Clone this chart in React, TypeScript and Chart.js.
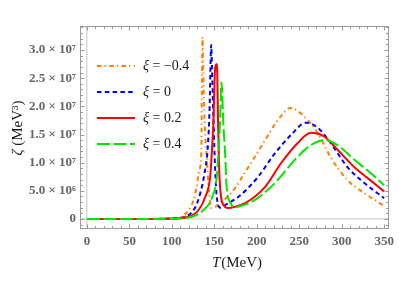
import React, { useEffect, useRef } from "react";
import { Chart, registerables } from "chart.js";

Chart.register(...registerables);

// ---- data ----
const seriesLabels = ["−0.4", "0", "0.2", "0.4"];
const seriesColors = ["#FF8000", "#0000FF", "#FF0000", "#00E600"];

const tOrange = [0, 60, 90, 100, 111.6, 119.8, 125.6, 129.1, 132.3, 134.6, 135.5, 136.1, 137, 138.5, 140.8, 143.2, 146.7, 158, 170, 190, 209.8, 225, 240, 256.4, 271.7, 286.9, 306.8, 326.7, 350];
const zOrange = [0, 5e3, 5e4, 1.2e5, 4e5, 1.6e6, 3.4e6, 5.7e6, 8.7e6, 1.17e7, 2.5e7, 3.23e7, 2.6e7, 1.76e7, 1.17e7, 5.7e6, 1.9e6, 3.0e6, 4.6e6, 9.2e6, 1.4e7, 1.76e7, 1.97e7, 1.81e7, 1.53e7, 1.1e7, 6.9e6, 4.6e6, 2.3e6];

const tBlue = [0, 60, 90, 100, 115.9, 127.6, 133.5, 138.5, 142.3, 144.5, 145.6, 146.3, 147.2, 149, 151, 152.9, 157.2, 165, 178.2, 201.6, 221.5, 240.2, 257.8, 271.8, 287, 306.8, 326.7, 350];
const zBlue = [0, 5e3, 4e4, 1e5, 4e5, 2.1e6, 4.6e6, 8.2e6, 1.28e7, 2.0e7, 2.8e7, 3.09e7, 2.7e7, 1.76e7, 8.7e6, 3.9e6, 2.0e6, 2.7e6, 3.9e6, 7.5e6, 1.17e7, 1.49e7, 1.71e7, 1.62e7, 1.35e7, 9.2e6, 6.4e6, 3.7e6];

const tRed = [0, 60, 90, 100, 119.7, 131.5, 139.3, 145.1, 147, 149, 150.8, 152.5, 153.6, 154.3, 155.7, 158, 160.7, 166, 175, 186.4, 209.8, 228.5, 248.3, 263.5, 279.9, 295.1, 315, 333.6, 350];
const zRed = [0, 4e3, 3e4, 8e4, 4e5, 1.6e6, 3.9e6, 7.5e6, 1.17e7, 1.76e7, 2.65e7, 2.75e7, 2.5e7, 1.76e7, 8.7e6, 3.9e6, 2.5e6, 1.95e6, 2.2e6, 2.8e6, 5.7e6, 9.9e6, 1.35e7, 1.53e7, 1.46e7, 1.23e7, 9.2e6, 6.9e6, 4.9e6];

const tGreen = [0, 60, 90, 100, 123.6, 137.3, 147, 152.9, 154.8, 156.8, 158.4, 160.7, 162.7, 164.5, 168.5, 174.7, 185, 198, 221.5, 244.8, 263.5, 279.9, 295.1, 315, 333.6, 350];
const zGreen = [0, 3e3, 2e4, 6e4, 4e5, 1.6e6, 3.7e6, 7.5e6, 1.17e7, 1.76e7, 2.43e7, 1.67e7, 1.17e7, 5.7e6, 3.0e6, 2.1e6, 2.5e6, 3.4e6, 6.4e6, 1.05e7, 1.31e7, 1.4e7, 1.31e7, 1.05e7, 8.2e6, 6.0e6];

const xTicks = [0, 50, 100, 150, 200, 250, 300, 350];
const xTickLabels = ["0", "50", "100", "150", "200", "250", "300", "350"];
const yTicks = [0, 5e6, 1e7, 1.5e7, 2e7, 2.5e7, 3e7];
const yTickLabels = ["0", "5.0 × 10⁶", "1.0 × 10⁷", "1.5 × 10⁷", "2.0 × 10⁷", "2.5 × 10⁷", "3.0 × 10⁷"];

const FRAME = "#9a9a9a";
const TICK_TEXT = "#666666";
const SERIF = "'Liberation Serif', 'DejaVu Serif', serif";

const dashes = [[4.5, 3, 1.3, 3.5], [4.5, 3.3], [], [13, 3.5]];

function pts(t: number[], z: number[]) {
  return t.map((x, i) => ({ x, y: z[i] }));
}

const framePlugin = {
  id: "mmaFrame",
  afterDraw(chart: any) {
    const { ctx, chartArea: a, scales } = chart;
    const xs = scales.x;
    const ys = scales.y;
    ctx.save();
    // frame
    ctx.strokeStyle = FRAME;
    ctx.lineWidth = 1;
    ctx.setLineDash([]);
    const L = Math.round(a.left) + 0.5;
    const R = Math.round(a.right) - 0.5;
    const T = Math.round(a.top) + 0.5;
    const B = Math.round(a.bottom) - 0.5;
    ctx.strokeRect(L, T, R - L, B - T);
    // ticks (inside, all four sides)
    ctx.beginPath();
    for (let v = 0; v <= 350; v += 10) {
      const px = Math.round(xs.getPixelForValue(v)) + 0.5;
      const len = v % 50 === 0 ? 4 : 2.5;
      ctx.moveTo(px, B);
      ctx.lineTo(px, B - len);
      ctx.moveTo(px, T);
      ctx.lineTo(px, T + len);
    }
    for (let k = -1; k <= 34; k++) {
      const v = k * 1e6;
      const py = Math.round(ys.getPixelForValue(v)) + 0.5;
      const len = k % 5 === 0 ? 4 : 2.5;
      ctx.moveTo(L, py);
      ctx.lineTo(L + len, py);
      ctx.moveTo(R, py);
      ctx.lineTo(R - len, py);
    }
    ctx.stroke();

    // legend
    ctx.textBaseline = "middle";
    ctx.textAlign = "left";
    const rows = [66, 92, 118, 144];
    chart.data.datasets.forEach((ds: any, i: number) => {
      const y = rows[i];
      ctx.strokeStyle = ds.borderColor;
      ctx.lineWidth = 2;
      ctx.lineCap = "butt";
      ctx.setLineDash(ds.borderDash || []);
      ctx.beginPath();
      ctx.moveTo(97, y);
      ctx.lineTo(135, y);
      ctx.stroke();
      ctx.setLineDash([]);
      ctx.fillStyle = "#1a1a1a";
      ctx.font = `italic 14px ${SERIF}`;
      ctx.fillText("ξ", 143, y);
      const w = ctx.measureText("ξ").width;
      ctx.font = `14px ${SERIF}`;
      ctx.fillText(" = " + seriesLabels[i], 143 + w, y);
    });

    // x title
    ctx.fillStyle = "#1a1a1a";
    ctx.font = `italic 15px ${SERIF}`;
    const wT = ctx.measureText("T").width;
    ctx.font = `15px ${SERIF}`;
    const wM = ctx.measureText("(MeV)").width;
    let x0 = 237 - (wT + wM + 1) / 2;
    ctx.font = `italic 15px ${SERIF}`;
    ctx.fillText("T", x0, 263);
    ctx.font = `15px ${SERIF}`;
    ctx.fillText("(MeV)", x0 + wT + 1, 263);

    // y title
    ctx.translate(18, 128);
    ctx.rotate(-Math.PI / 2);
    ctx.font = `italic 15px ${SERIF}`;
    const wZ = ctx.measureText("ζ").width;
    ctx.font = `15px ${SERIF}`;
    const wU = ctx.measureText(" (MeV³)").width;
    x0 = -(wZ + wU) / 2;
    ctx.font = `italic 15px ${SERIF}`;
    ctx.fillText("ζ", x0, 0);
    ctx.font = `15px ${SERIF}`;
    ctx.fillText(" (MeV³)", x0 + wZ, 0);
    ctx.restore();
  },
};

export default function App() {
  const ref = useRef<HTMLCanvasElement | null>(null);
  useEffect(() => {
    if (!ref.current) return;
    const series = [
      pts(tOrange, zOrange),
      pts(tBlue, zBlue),
      pts(tRed, zRed),
      pts(tGreen, zGreen),
    ];
    const chart = new Chart(ref.current, {
      type: "line",
      data: {
        datasets: series.map((d, i) => ({
          label: "ξ = " + seriesLabels[i],
          data: d,
          borderColor: seriesColors[i],
          borderWidth: 2,
          borderDash: dashes[i],
          borderCapStyle: "butt",
          pointRadius: 0,
          fill: false,
          cubicInterpolationMode: "monotone",
          order: 3 - i,
        })),
      },
      options: {
        animation: false,
        responsive: false,
        events: [],
        layout: { padding: { left: 0, right: 7, top: 26, bottom: 0 } },
        plugins: { legend: { display: false }, tooltip: { enabled: false } },
        scales: {
          x: {
            type: "linear",
            min: -8.2,
            max: 355.8,
            afterBuildTicks: (s: any) => {
              s.ticks = xTicks.map((v) => ({ value: v }));
            },
            afterFit: (s: any) => {
              s.height = 70;
            },
            ticks: {
              autoSkip: false,
              maxRotation: 0,
              padding: 5,
              color: TICK_TEXT,
              font: { family: SERIF, size: 13, weight: "bold" },
              callback: (v: any) => xTickLabels[xTicks.indexOf(Number(v))],
            },
            grid: {
              drawTicks: false,
              lineWidth: 1.5,
              color: (c: any) => (c.tick && c.tick.value === 0 ? "#d8d8d8" : "rgba(0,0,0,0)"),
            },
            border: { display: false },
          },
          y: {
            type: "linear",
            min: -1.775e6,
            max: 3.4265e7,
            afterBuildTicks: (s: any) => {
              s.ticks = yTicks.map((v) => ({ value: v }));
            },
            afterFit: (s: any) => {
              s.width = 80;
            },
            ticks: {
              padding: 4,
              color: TICK_TEXT,
              font: { family: SERIF, size: 13, weight: "bold" },
              callback: (v: any) => yTickLabels[yTicks.indexOf(Number(v))],
            },
            grid: {
              drawTicks: false,
              lineWidth: 1.5,
              color: (c: any) => (c.tick && c.tick.value === 0 ? "#d8d8d8" : "rgba(0,0,0,0)"),
            },
            border: { display: false },
          },
        },
      },
      plugins: [framePlugin],
    } as any);
    return () => chart.destroy();
  }, []);
  return (
    <div style={{ position: "absolute", left: 0, top: 0, width: 399, height: 299, background: "#fff" }}>
      <canvas ref={ref} width={399} height={299} />
    </div>
  );
}
